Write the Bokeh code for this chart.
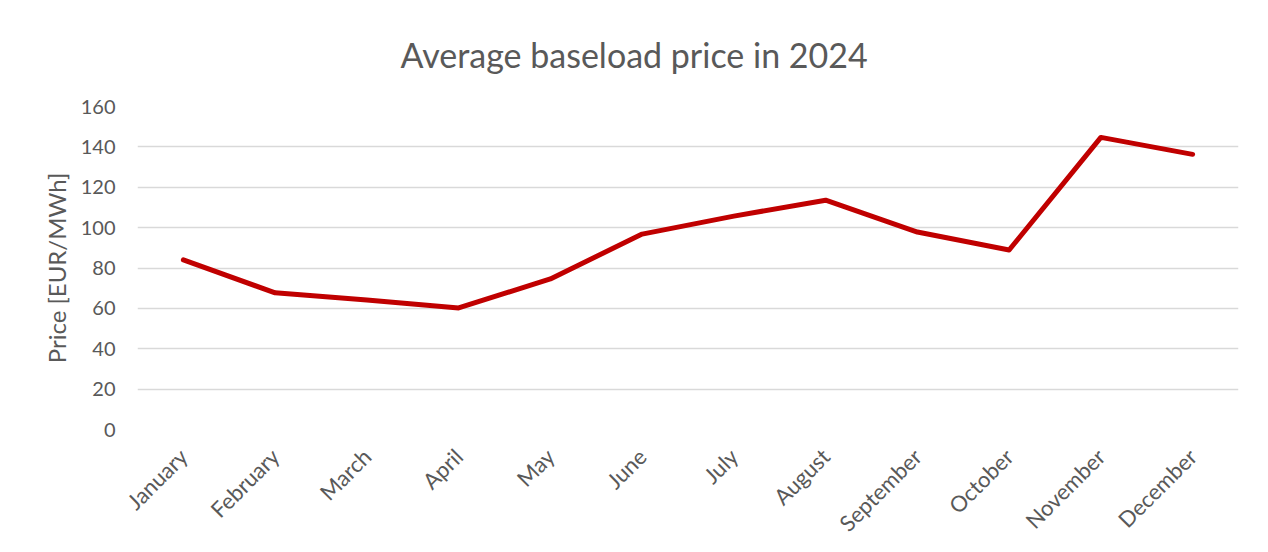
import math
from bokeh.plotting import figure
from bokeh.models import FactorRange, Range1d, Title
from bokeh.embed import file_html
from bokeh.resources import INLINE

months = ["January", "February", "March", "April", "May", "June", "July",
          "August", "September", "October", "November", "December"]
price = [84.0, 67.7, 64.2, 60.2, 74.6, 96.8, 105.7, 113.6, 97.8, 88.9, 144.7, 136.3]
y_ticks = [0, 20, 40, 60, 80, 100, 120, 140, 160]

FONT = "Lato"
TXT = "#595959"

p = figure(width=1266, height=552, output_backend="svg", toolbar_location=None,
           x_range=FactorRange(*months, range_padding=0), y_range=Range1d(0, 160),
           min_border_left=137, min_border_right=28, min_border_top=105, min_border_bottom=123,
           background_fill_color="white", border_fill_color="white", outline_line_color=None)

p.line(months, price, line_color="#C00000", line_width=5, line_cap="round", line_join="round")

t = Title(text="Average baseload price in 2024", align="left", offset=263, text_font=FONT,
          text_font_size="34px", text_color=TXT, text_font_style="normal", standoff=63)
p.add_layout(t, "above")

p.yaxis.ticker = y_ticks
p.yaxis.axis_line_color = None
p.yaxis.major_tick_line_color = None
p.yaxis.minor_tick_line_color = None
p.yaxis.major_label_standoff = 16
p.yaxis.major_label_text_font = FONT
p.yaxis.major_label_text_font_size = "20px"
p.yaxis.major_label_text_color = TXT
p.yaxis.axis_label = "Price [EUR/MWh]"
p.yaxis.axis_label_text_font = FONT
p.yaxis.axis_label_text_font_size = "24px"
p.yaxis.axis_label_text_font_style = "normal"
p.yaxis.axis_label_text_color = TXT
p.yaxis.axis_label_standoff = 7

p.xaxis.axis_line_color = None
p.xaxis.major_tick_line_color = None
p.xaxis.minor_tick_line_color = None
p.xaxis.major_label_orientation = math.pi / 4
p.xaxis.major_label_standoff = 17
p.xaxis.major_label_text_font = FONT
p.xaxis.major_label_text_font_size = "22px"
p.xaxis.major_label_text_color = TXT

p.xgrid.grid_line_color = None
p.ygrid.grid_line_color = "#d9d9d9"
p.ygrid.grid_line_width = 1.5

open("out.html", "w").write(file_html(p, INLINE))
